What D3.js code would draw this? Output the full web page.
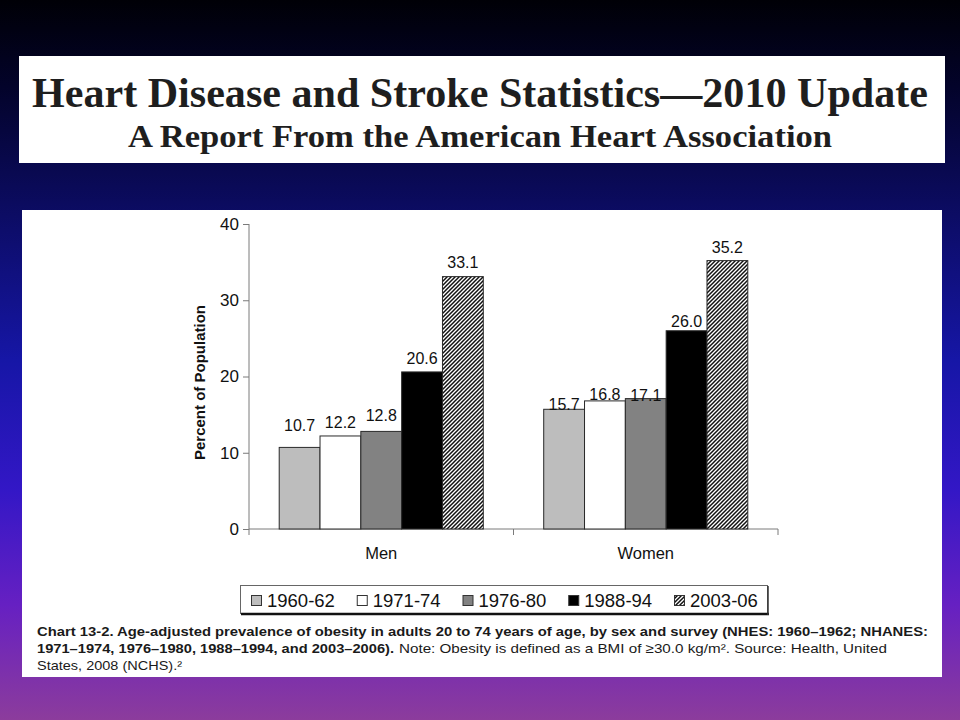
<!DOCTYPE html>
<html>
<head>
<meta charset="utf-8">
<script src="https://cdn.jsdelivr.net/npm/d3@7"></script>
<style>
  html, body { margin: 0; padding: 0; background: #000; }
  svg { display: block; }
</style>
</head>
<body>
<svg id="chart" width="960" height="720"></svg>
<script>
// ---------- data ----------
const groups = ["Men", "Women"];
const surveys = ["1960-62", "1971-74", "1976-80", "1988-94", "2003-06"];
const menValues = [10.7, 12.2, 12.8, 20.6, 33.1];
const womenValues = [15.7, 16.8, 17.1, 26.0, 35.2];
const valueLabels = {
  Men: ["10.7", "12.2", "12.8", "20.6", "33.1"],
  Women: ["15.7", "16.8", "17.1", "26.0", "35.2"]
};
const yTicks = [0, 10, 20, 30, 40];
const titleText = "Heart Disease and Stroke Statistics\u20142010 Update";
const subtitleText = "A Report From the American Heart Association";
const yAxisTitle = "Percent of Population";
const captionLine1 = "Chart 13-2. Age-adjusted prevalence of obesity in adults 20 to 74 years of age, by sex and survey (NHES: 1960\u20131962; NHANES:";
const captionLine2Bold = "1971\u20131974, 1976\u20131980, 1988\u20131994, and 2003\u20132006).";
const captionLine2Normal = "Note: Obesity is defined as a BMI of \u226530.0 kg/m\u00B2. Source: Health, United";
const captionLine3 = "States, 2008 (NCHS).\u00B2";

// ---------- drawing ----------
const svg = d3.select("#chart");
const defs = svg.append("defs");

const bg = defs.append("linearGradient").attr("id", "bg")
  .attr("x1", 0).attr("y1", 0).attr("x2", 0).attr("y2", 1);
[[0, "#000006"], [0.12, "#03032a"], [0.28, "#0b0b5e"], [0.5, "#1616a6"],
 [0.68, "#3317c6"], [0.84, "#6620c2"], [1, "#8c3c9c"]].forEach(([o, c]) =>
  bg.append("stop").attr("offset", o).attr("stop-color", c));

const hatch = defs.append("pattern").attr("id", "hatch")
  .attr("patternUnits", "userSpaceOnUse").attr("width", 4).attr("height", 4);
hatch.append("rect").attr("width", 4).attr("height", 4).attr("fill", "#fff");
hatch.append("path").attr("d", "M-1,1 l2,-2 M0,4 l4,-4 M3,5 l2,-2")
  .attr("stroke", "#111").attr("stroke-width", 1.5);

const fills = ["#bdbdbd", "#ffffff", "#828282", "#000000", "url(#hatch)"];

svg.append("rect").attr("width", 960).attr("height", 720).attr("fill", "url(#bg)");

// title panel
svg.append("rect").attr("x", 19).attr("y", 56).attr("width", 926).attr("height", 107).attr("fill", "#fff");
svg.append("text").attr("x", 32).attr("y", 107)
  .attr("font-family", "'Liberation Serif','Times New Roman',serif").attr("font-weight", "bold")
  .attr("font-size", 42).attr("fill", "#1e1e1e")
  .attr("textLength", 896).attr("lengthAdjust", "spacingAndGlyphs")
  .text(titleText);
svg.append("text").attr("x", 128).attr("y", 147)
  .attr("font-family", "'Liberation Serif','Times New Roman',serif").attr("font-weight", "bold")
  .attr("font-size", 32).attr("fill", "#1e1e1e")
  .attr("textLength", 704).attr("lengthAdjust", "spacingAndGlyphs")
  .text(subtitleText);

// chart panel
svg.append("rect").attr("x", 22).attr("y", 210).attr("width", 920).attr("height", 467).attr("fill", "#fff");

const y = d3.scaleLinear().domain([0, 40]).range([529, 224]);
const x0 = d3.scaleBand().domain(groups).range([249, 778]).paddingInner(0).paddingOuter(0);
const x1 = d3.scaleBand().domain(surveys).range([0, x0.bandwidth()]).paddingInner(0).paddingOuter(0.74);

const font = "Arial, 'Liberation Sans', Helvetica, sans-serif";
const axisColor = "#7a7a7a";

// y axis
const yAxis = svg.append("g").attr("transform", "translate(249,0)")
  .call(d3.axisLeft(y).tickValues(yTicks).tickSize(6).tickPadding(4).tickFormat(d3.format("d")));
yAxis.select(".domain").attr("stroke", axisColor).attr("d", "M0,224V535");
yAxis.selectAll(".tick line").attr("stroke", axisColor);
yAxis.selectAll(".tick text").attr("font-family", font).attr("font-size", 17).attr("fill", "#111");

// x axis
const xAxis = svg.append("g").attr("transform", "translate(0,529)")
  .call(d3.axisBottom(x0).tickSize(0).tickPadding(18));
xAxis.select(".domain").attr("stroke", axisColor).attr("d", "M249,0H778");
xAxis.selectAll(".tick text").attr("font-family", font).attr("font-size", 16.5).attr("fill", "#111");
// group separators
svg.append("g").selectAll("line").data([x0("Women"), x0.range()[1]]).join("line")
  .attr("x1", d => d).attr("x2", d => d).attr("y1", 529).attr("y2", 535)
  .attr("stroke", axisColor);

// y axis title
svg.append("text").attr("transform", `translate(205,${(y(0) + y(40)) / 2 + 6}) rotate(-90)`)
  .attr("text-anchor", "middle").attr("font-family", font).attr("font-weight", "bold")
  .attr("font-size", 15).attr("fill", "#111").text(yAxisTitle);

// bars
const seriesByGroup = { Men: menValues, Women: womenValues };
const labelGap = { Men: [16, 8, 10, 8, 9], Women: [-1, 1, -2, 4, 8] };
const barData = [];
groups.forEach(g => seriesByGroup[g].forEach((v, i) =>
  barData.push({ group: g, survey: surveys[i], value: v, i, label: valueLabels[g][i] })));

svg.append("g").selectAll("rect").data(barData).join("rect")
  .attr("x", d => x0(d.group) + x1(d.survey))
  .attr("y", d => y(d.value))
  .attr("width", x1.bandwidth())
  .attr("height", d => y(0) - y(d.value))
  .attr("fill", d => fills[d.i])
  .attr("stroke", "#2a2a2a").attr("stroke-width", 1);

svg.append("g").selectAll("text").data(barData).join("text")
  .attr("x", d => x0(d.group) + x1(d.survey) + x1.bandwidth() / 2)
  .attr("y", d => y(d.value) - labelGap[d.group][d.i])
  .attr("text-anchor", "middle").attr("font-family", font).attr("font-size", 16)
  .attr("fill", "#111").text(d => d.label);

// legend
const leg = svg.append("g");
leg.append("rect").attr("x", 240.5).attr("y", 585.5).attr("width", 527).attr("height", 28)
  .attr("fill", "#fff").attr("stroke", "#666").attr("stroke-width", 1);
leg.append("line").attr("x1", 241).attr("x2", 769).attr("y1", 614).attr("y2", 614)
  .attr("stroke", "#111").attr("stroke-width", 2.5);
leg.append("line").attr("x1", 768).attr("x2", 768).attr("y1", 586).attr("y2", 615)
  .attr("stroke", "#333").attr("stroke-width", 1.5);
const legX = d3.scalePoint().domain(surveys).range([251, 674]);
const legItems = leg.selectAll("g.item").data(surveys).join("g").attr("class", "item")
  .attr("transform", d => `translate(${legX(d)},595)`);
legItems.append("rect").attr("x", 0.5).attr("y", 0.5).attr("width", 10).attr("height", 10)
  .attr("fill", (d, i) => fills[i]).attr("stroke", "#333").attr("stroke-width", 1);
legItems.append("text").attr("x", 16).attr("y", 11.5)
  .attr("font-family", font).attr("font-size", 18.5).attr("fill", "#111").text(d => d);

// caption
const cap = svg.append("g").attr("font-family", font).attr("font-size", 13.5).attr("fill", "#1a1a1a");
cap.append("text").attr("x", 37).attr("y", 636).attr("font-weight", "bold")
  .attr("textLength", 891).attr("lengthAdjust", "spacingAndGlyphs").text(captionLine1);
cap.append("text").attr("x", 37).attr("y", 652.5).attr("font-weight", "bold")
  .attr("textLength", 357).attr("lengthAdjust", "spacingAndGlyphs").text(captionLine2Bold);
cap.append("text").attr("x", 399).attr("y", 652.5)
  .attr("textLength", 488).attr("lengthAdjust", "spacingAndGlyphs").text(captionLine2Normal);
cap.append("text").attr("x", 37).attr("y", 670)
  .attr("textLength", 145).attr("lengthAdjust", "spacingAndGlyphs").text(captionLine3);
</script>
</body>
</html>
